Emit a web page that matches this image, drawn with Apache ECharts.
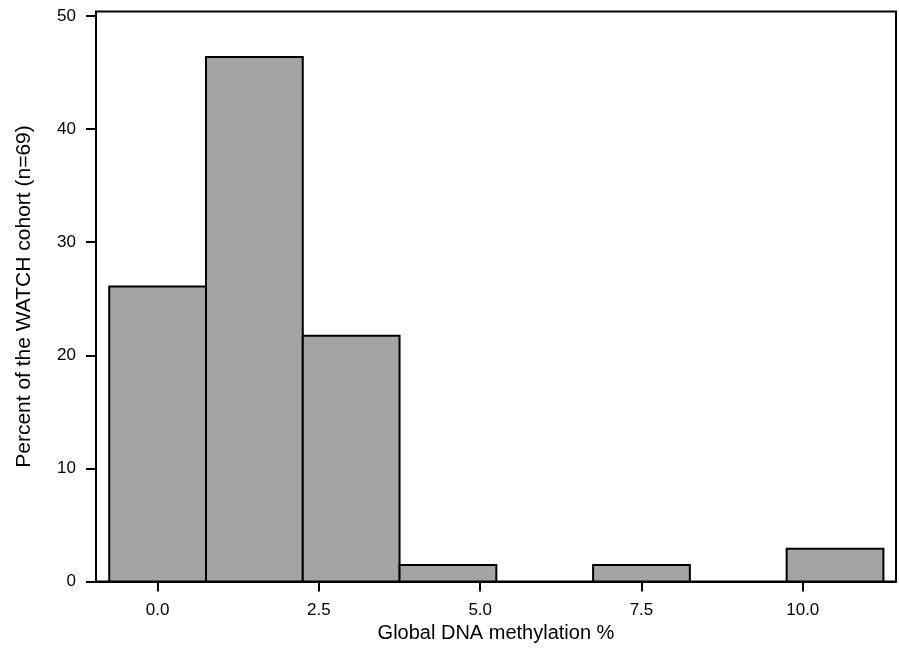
<!DOCTYPE html>
<html>
<head>
<meta charset="utf-8">
<script src="https://cdn.jsdelivr.net/npm/echarts@6/dist/echarts.min.js"></script>
<style>
html,body{margin:0;padding:0;background:#fff;}
#chart{width:899px;height:652px;}
</style>
</head>
<body>
<div id="chart"></div>
<script>
// Histogram bins (Global DNA methylation %) and percent of cohort (n=69)
const binStarts = [-0.75, 0.75, 2.25, 3.75, 5.25, 6.75, 8.25, 9.75];
const binEnds   = [0.75, 2.25, 3.75, 5.25, 6.75, 8.25, 9.75, 11.25];
const percents  = [26.09, 46.38, 21.74, 1.45, 0, 1.45, 0, 2.90];
const xTickValues = [0, 2.5, 5, 7.5, 10];
const xTickLabels = ['0.0', '2.5', '5.0', '7.5', '10.0'];
const yTickValues = [0, 10, 20, 30, 40, 50];
const xTitle = 'Global DNA methylation %';
const yTitle = 'Percent of the WATCH cohort (n=69)';

const FONT = "'Liberation Sans', Arial, Helvetica, sans-serif";
const data = percents.map((v, i) => [binStarts[i], binEnds[i], v]);

const chart = echarts.init(document.getElementById('chart'), null, {renderer: 'canvas'});
chart.setOption({
  animation: false,
  backgroundColor: '#ffffff',
  grid: {
    left: 96, right: 3, top: 11.5, bottom: 70.5,
    show: true, borderColor: '#000', borderWidth: 2,
    outerBoundsMode: 'none'
  },
  xAxis: {
    type: 'value',
    min: -0.955, max: 11.445,
    name: xTitle,
    nameLocation: 'middle',
    nameGap: 35,
    nameTextStyle: {fontFamily: FONT, fontSize: 20, color: '#000'},
    axisLine: {show: true, onZero: false, lineStyle: {color: '#000', width: 2}},
    axisTick: {show: true, length: 10, lineStyle: {color: '#000', width: 2}, customValues: xTickValues},
    axisLabel: {
      margin: 20, fontFamily: FONT, fontSize: 17, color: '#000',
      customValues: xTickValues,
      formatter: function (v) { const i = xTickValues.indexOf(v); return i >= 0 ? xTickLabels[i] : ''; }
    },
    splitLine: {show: false}
  },
  yAxis: {
    type: 'value',
    min: 0, max: 50.4,
    name: yTitle,
    nameLocation: 'middle',
    nameGap: 61,
    nameTextStyle: {fontFamily: FONT, fontSize: 21, color: '#000'},
    axisLine: {show: true, onZero: false, lineStyle: {color: '#000', width: 2}},
    axisTick: {show: true, length: 10, lineStyle: {color: '#000', width: 2}, customValues: yTickValues},
    axisLabel: {margin: 20, fontFamily: FONT, fontSize: 17, color: '#000', customValues: yTickValues},
    splitLine: {show: false}
  },
  series: [{
    type: 'custom',
    data: data,
    encode: {x: [0, 1], y: 2},
    renderItem: function (params, api) {
      const y = api.value(2);
      if (!y) return null;
      const p0 = api.coord([api.value(0), y]);
      const p1 = api.coord([api.value(1), 0]);
      return {
        type: 'rect',
        shape: {x: p0[0], y: p0[1], width: p1[0] - p0[0], height: p1[1] - p0[1]},
        style: {fill: '#a4a4a4', stroke: '#000', lineWidth: 2}
      };
    }
  }]
});
</script>
</body>
</html>
